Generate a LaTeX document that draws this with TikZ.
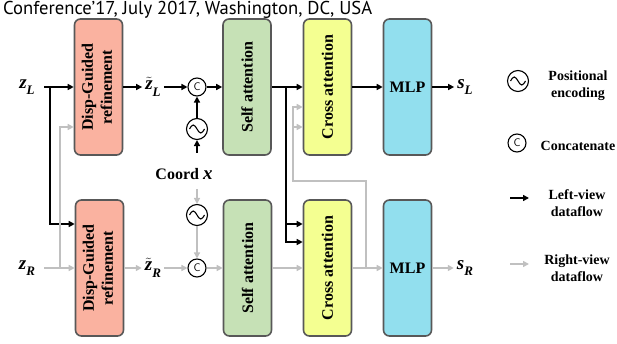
\documentclass[tikz,border=0pt]{standalone}
\usepackage{fontspec}
\usepackage{amsmath}
\usepackage{graphicx}
\setmainfont{Liberation Serif}
\newfontfamily\hdrfont{PT Sans}
\usetikzlibrary{arrows.meta}
\definecolor{dispc}{RGB}{250,178,160}
\definecolor{selfc}{RGB}{198,225,182}
\definecolor{crossc}{RGB}{244,255,145}
\definecolor{mlpc}{RGB}{146,223,238}
\definecolor{grayflow}{RGB}{192,192,192}
\definecolor{boxborder}{RGB}{88,88,88}
\newcommand\bsym[2]{\textbf{\textit{#1}}\raisebox{-0.35em}{\fontsize{13}{13}\selectfont\textbf{\textit{#2}}}}
\newcommand\bsymt[2]{$\tilde{\text{\textbf{\textit{#1}}}}$\raisebox{-0.35em}{\fontsize{13}{13}\selectfont\textbf{\textit{#2}}}}
\tikzset{
  blockbox/.style={draw=boxborder, line width=1.6pt, rounded corners=6pt, minimum width=48pt, minimum height=136pt, inner sep=0pt, align=center, font=\fontsize{16}{19}\selectfont\bfseries},
  blk/.style={line width=1.7pt, black, -{Triangle[length=6pt,width=6pt]}},
  gry/.style={line width=1.7pt, grayflow, -{Triangle[length=6pt,width=6pt]}},
  blkline/.style={line width=1.7pt, black},
  gryline/.style={line width=1.7pt, grayflow},
  mathlab/.style={font=\fontsize{19}{21}\selectfont, inner sep=3pt},
  legtext/.style={font=\fontsize{14}{17}\selectfont\bfseries, align=center},
  concat/.style={draw, circle, line width=1.1pt, minimum size=18pt, inner sep=0pt, font=\sffamily\fontsize{11}{11}\selectfont},
  posenc/.style={draw, circle, line width=1.1pt, minimum size=21pt, inner sep=0pt,
    path picture={\draw[line width=1.1pt] ([xshift=-7.5pt]path picture bounding box.center) sin ++(3.75pt,4pt) cos ++(3.75pt,-4pt) sin ++(3.75pt,-4pt) cos ++(3.75pt,4pt);}}
}
\begin{document}
\begin{tikzpicture}[x=1pt,y=-1pt]
\useasboundingbox (0,0) rectangle (617,344);
% header
\node[anchor=west, inner sep=0pt] (hdr) at (3,10) {\resizebox{369pt}{!}{\hdrfont Conference’17, July 2017, Washington, DC, USA}};
% blocks
\node[blockbox, fill=dispc] (dt) at (98.5,87) {\rotatebox{90}{\begin{tabular}{c}Disp-Guided\\refinement\end{tabular}}};
\node[blockbox, fill=dispc] (db) at (99.5,268) {\rotatebox{90}{\begin{tabular}{c}Disp-Guided\\refinement\end{tabular}}};
\node[blockbox, fill=selfc] (st) at (247,87) {\rotatebox{90}{Self attention}};
\node[blockbox, fill=selfc] (sb) at (247.5,268) {\rotatebox{90}{Self attention}};
\node[blockbox, fill=crossc] (ct) at (327.5,87) {\rotatebox{90}{Cross attention}};
\node[blockbox, fill=crossc] (cb) at (327.5,268) {\rotatebox{90}{Cross attention}};
\node[blockbox, fill=mlpc] (mt) at (407.5,87) {MLP};
\node[blockbox, fill=mlpc] (mb) at (407.5,268) {MLP};
% labels
\node[mathlab] (zL) at (27,87) {\bsym{z}{L}};
\node[mathlab] (zR) at (27,268) {\bsym{z}{R}};
\node[mathlab] (ztL) at (153,87) {\bsymt{z}{L}};
\node[mathlab] (ztR) at (153,268) {\bsymt{z}{R}};
\node[mathlab] (sL) at (465,87) {\bsym{s}{L}};
\node[mathlab] (sR) at (465,268) {\bsym{s}{R}};
\node[font=\fontsize{16}{19}\selectfont\bfseries, inner sep=0pt] (coord) at (184,174) {Coord \fontsize{19}{19}\selectfont\textit{x}};
% circles
\node[concat] (cL) at (197,87) {C};
\node[concat] (cR) at (197,268) {C};
\node[posenc] (peL) at (197,129) {};
\node[posenc] (peR) at (197,215) {};
% coordinates
\coordinate (zLs) at (44,87);
\coordinate (bL) at (50,87);
\coordinate (zRs) at (44,268);
\coordinate (bR) at (60,268);
\coordinate (cxu) at (197,153);
\coordinate (cxd) at (197,189);
\coordinate (sbr) at (286,87);
\coordinate (sbr2) at (286,224);
\coordinate (gbr) at (366,268);
\coordinate (gk1) at (366,181);
\coordinate (gk2) at (293,181);
\coordinate (gk3) at (293,127);
% left-view (black)
\draw[blk] (zLs) -- (dt.west);
\draw[blk] (bL) |- ([yshift=44pt]db.west);
\draw[blk] (dt.east) -- (ztL.west);
\draw[blk] (ztL.east) -- (cL.west);
\draw[blk] (cxu) -- (peL.south);
\draw[blk] (peL.north) -- (cL.south);
\draw[blk] (cL.east) -- (st.west);
\draw[blk] (st.east) -- (ct.west);
\draw[blk] (sbr) |- ([yshift=44pt]cb.west);
\draw[blk] (sbr2) |- ([yshift=26pt]cb.west);
\draw[blk] (ct.east) -- (mt.west);
\draw[blk] (mt.east) -- (sL.west);
% right-view (gray)
\draw[gry] (zRs) -- (db.west);
\draw[gry] (bR) |- ([yshift=-40pt]dt.west);
\draw[gry] (db.east) -- (ztR.west);
\draw[gry] (ztR.east) -- (cR.west);
\draw[gry] (cxd) -- (peR.north);
\draw[gry] (peR.south) -- (cR.north);
\draw[gry] (cR.east) -- (sb.west);
\draw[gry] (sb.east) -- (cb.west);
\draw[gry] (cb.east) -- (mb.west);
\draw[gry] (mb.east) -- (sR.west);
\draw[gryline] (gbr) -- (gk1) -- (gk2) -- (gk3);
\draw[gry] (gk2) |- ([yshift=-20pt]ct.west);
\draw[gry] (gk3) -- (gk3 -| ct.west);
% legend
\node[posenc] (lpe) at (518,81) {};
\node[legtext] (lpet) at (578,86) {Positional\\encoding};
\node[concat] (lc) at (517,143) {C};
\node[legtext] (lct) at (578,146) {Concatenate};
\coordinate (lb1) at (510,198);
\coordinate (lb2) at (529,198);
\draw[blk] (lb1) -- (lb2);
\node[legtext] (lbt) at (577,203) {Left-view\\dataflow};
\coordinate (lg1) at (510,264);
\coordinate (lg2) at (529,264);
\draw[gry] (lg1) -- (lg2);
\node[legtext] (lgt) at (577,268.5) {Right-view\\dataflow};
\end{tikzpicture}
\end{document}
